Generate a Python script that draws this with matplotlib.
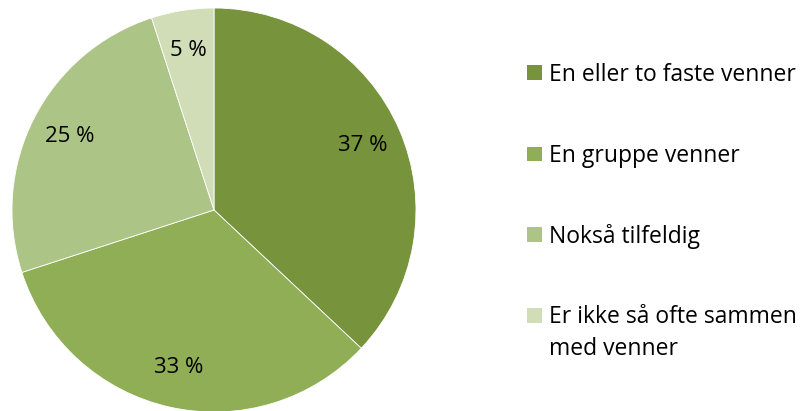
import matplotlib
matplotlib.use("Agg")
import matplotlib.pyplot as plt
from matplotlib.patches import Rectangle

categories = ["En eller to faste venner", "En gruppe venner", "Nokså tilfeldig",
              "Er ikke så ofte sammen\nmed venner"]
values = [37, 33, 25, 5]
labels = ["37 %", "33 %", "25 %", "5 %"]
colors = ["#77933C", "#8FAE55", "#ADC487", "#D0DDB6"]

plt.rcParams['font.family'] = ['Open Sans', 'DejaVu Sans']

W, H = 801, 411
fig = plt.figure(figsize=(W / 100, H / 100), dpi=100)

cx, cy, r = 214, 210, 202
ax = fig.add_axes([(cx - r) / W, (H - cy - r) / H, 2 * r / W, 2 * r / H])
wedges, texts = ax.pie(values, colors=colors, startangle=90, counterclock=False,
                       radius=1, wedgeprops=dict(edgecolor="white", linewidth=0.6),
                       labels=labels, labeldistance=0.8,
                       textprops=dict(fontsize=16, color="black", ha="center", va="center"))
for w in wedges:
    w.set_clip_on(False)
ax.set_xlim(-1, 1)
ax.set_ylim(-1, 1)
ax.set_aspect("equal")
ax.axis("off")

# legend
rows_y = [73, 154, 235, 315]
line_gap = 32
for cat, col, y in zip(categories, colors, rows_y):
    fig.patches.append(Rectangle((527 / W, (H - y - 7.5) / H), 15 / W, 15 / H,
                                 transform=fig.transFigure, facecolor=col, edgecolor="none"))
    for i, line in enumerate(cat.split("\n")):
        fig.text(549 / W, (H - (y + 8 + i * line_gap)) / H, line, fontsize=16.5,
                 ha="left", va="baseline", color="black")

fig.savefig("out.png", dpi=100)
